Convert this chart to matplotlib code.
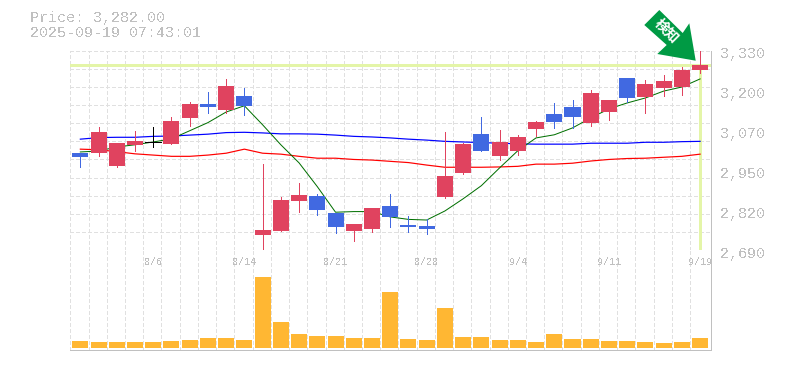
import numpy as np
import matplotlib
matplotlib.use("Agg")
import matplotlib.pyplot as plt
from matplotlib.patches import Polygon
from matplotlib.transforms import IdentityTransform

plt.rcParams["lines.antialiased"] = False
plt.rcParams["text.antialiased"] = False

opens = [3002, 3002, 2960, 3028, 3036, 3031, 3114, 3159, 3140, 3184, 2740, 2752, 2848, 2864, 2810, 2752, 2759, 2832,
         2772, 2768, 2861, 2938, 3063, 2992, 3008, 3079, 3127, 3149, 3098, 3133, 3242, 3181, 3210, 3213, 3268]
closes = [2989, 3069, 3034, 3040, 3036, 3104, 3159, 3149, 3216, 3152, 2756, 2852, 2868, 2820, 2765, 2775, 2826, 2797,
          2765, 2759, 2928, 3031, 3008, 3037, 3053, 3101, 3101, 3117, 3194, 3172, 3178, 3223, 3232, 3268, 3282]
highs = [3002, 3085, 3034, 3072, 3085, 3117, 3165, 3197, 3239, 3210, 2967, 2861, 2906, 2871, 2810, 2775, 2826, 2871,
         2800, 2791, 3069, 3035, 3117, 3076, 3060, 3104, 3162, 3172, 3204, 3172, 3242, 3236, 3252, 3277, 3330]
lows = [2957, 2993, 2958, 3008, 3021, 3031, 3088, 3130, 3131, 3124, 2692, 2752, 2813, 2804, 2746, 2720, 2749, 2765,
        2749, 2743, 2858, 2935, 3008, 2980, 2996, 3056, 3082, 3082, 3088, 3108, 3165, 3130, 3184, 3188, 3258]
ma_short = [3005, 3008, 3021, 3028, 3037, 3047, 3073, 3099, 3133, 3153, 3092, 3028, 2970, 2894, 2812, 2814, 2814, 2797,
            2789, 2787, 2816, 2855, 2897, 2954, 3009, 3050, 3060, 3082, 3114, 3143, 3162, 3178, 3200, 3213, 3239]
ma_mid = [3046, 3051, 3052, 3052, 3055, 3056, 3059, 3062, 3067, 3068, 3066, 3063, 3063, 3062, 3059, 3055, 3053, 3050,
          3046, 3043, 3039, 3037, 3035, 3033, 3031, 3030, 3030, 3030, 3033, 3033, 3033, 3036, 3036, 3038, 3039]
ma_long = [3014, 3012, 3006, 2999, 2995, 2991, 2991, 2995, 3001, 3014, 3001, 2998, 2991, 2985, 2985, 2981, 2979, 2975,
           2971, 2963, 2956, 2956, 2956, 2957, 2959, 2966, 2966, 2969, 2976, 2981, 2984, 2985, 2988, 2991, 2998]
volumes = [7, 6, 6, 6, 6, 7, 8, 10, 10, 8, 71, 26, 14, 12, 12, 10, 10, 56,
           9, 8, 40, 11, 11, 8, 8, 6, 14, 9, 9, 7, 7, 6, 5, 6, 10]
date_pos = [4, 9, 14, 19, 24, 29, 34]
date_labels = ["8/6", "8/14", "8/21", "8/28", "9/4", "9/11", "9/19"]
price_labels = ["2,690", "2,820", "2,950", "3,070", "3,200", "3,330"]
last_price = 3282

W, H = 785, 370
GREY = "#c0c0c0"
GRID = "#e0e0e0"
RED = "#e0435f"
BLUE = "#4169e1"
MARK = "#e4f5a8"
FONT = "Liberation Mono"
px = 72 / 100
thin = 0.6 * px
dash = (0, (5, 3.5))

fig = plt.figure(figsize=(W / 100, H / 100), dpi=100)
ax = fig.add_axes([70.3 / W, 1 - 250.3 / H, 640.2 / W, 199.8 / H])
vol = fig.add_axes([70.3 / W, 1 - 350.3 / H, 640.2 / W, 100 / H])

n = len(closes)
x = np.arange(n)
grid_x = np.arange(n) - 0.55
grid_y = np.linspace(2690, 3330, 12)

for a in (ax, vol):
    a.set_xlim(-0.549, 34.57)
    a.set_xticks(grid_x)
    a.tick_params(length=0, labelbottom=False, labelleft=False)
    a.grid(axis="x", color=GRID, lw=thin, ls=dash)
    a.set_axisbelow(True)
    for s in ("top", "left"):
        a.spines[s].set_visible(False)
    for s in ("bottom", "right"):
        a.spines[s].set_color(GREY)
        a.spines[s].set_linewidth(1 * px)

ax.set_ylim(2690, 3330)
ax.set_yticks(grid_y[:-1])
ax.grid(axis="y", color=GRID, lw=thin, ls=dash)
ax.hlines(3330, -0.549, 34.57, color=GRID, lw=thin, ls=dash, zorder=1)

# last price marker
ax.axhline(last_price, color=MARK, lw=3 * px, zorder=1.5)
ax.plot([n - 1, n - 1], [2695, last_price], color=MARK, lw=3 * px, zorder=1.5, solid_capstyle="butt")

ax.plot(x, ma_long, color="#ff0000", lw=1.2 * px, zorder=2, antialiased=True)
ax.plot(x, ma_mid, color="#0000ff", lw=1.2 * px, zorder=2, antialiased=True)
ax.plot(x, ma_short, color="#006f00", lw=1 * px, zorder=2, antialiased=True)

for i in range(n):
    if closes[i] > opens[i]:
        c = RED
    elif closes[i] < opens[i]:
        c = BLUE
    else:
        c = "black"
    ax.plot([i, i], [lows[i], highs[i]], color=c, lw=thin, zorder=3, solid_capstyle="butt", clip_on=False)
    if closes[i] == opens[i]:
        ax.plot([i - 0.44, i + 0.44], [closes[i], closes[i]], color=c, lw=thin, zorder=3)
    else:
        ax.bar(i, abs(closes[i] - opens[i]), bottom=min(opens[i], closes[i]), width=0.88, color=c, zorder=3)

vol.set_ylim(-2.3, 97.7)
vol.set_yticks([])
vol.bar(x, volumes, width=0.88, color="#ffb733", zorder=3)

for p, lab in zip(date_pos, date_labels):
    vol.annotate(lab, (p, 1), xycoords=("data", "axes fraction"), xytext=(0, -6.5 * px), textcoords="offset points",
                 ha="center", va="top", color=GREY, fontsize=10 * px, family=FONT)

for p, lab in zip(np.linspace(2690, 3330, 6), price_labels):
    ax.annotate(lab, (1, p), xycoords=("axes fraction", "data"), xytext=(9.5 * px, -3.5 * px), textcoords="offset points",
                ha="left", va="center", color=GREY, fontsize=15 * px, family=FONT)

fig.text(30 / W, 1 - 18 / H, "Price: 3,282.00", color=GREY, fontsize=15 * px, family=FONT, va="center")
fig.text(30 / W, 1 - 33 / H, "2025-09-19 07:43:01", color=GREY, fontsize=15 * px, family=FONT, va="center")

# arrow badge, in pixels from the top left corner
arrow_px = [(644.3, 25), (659.3, 10), (682.7, 33), (689.3, 23.3), (695.7, 60.7), (657.3, 54), (666.7, 45)]
fig.add_artist(Polygon([(a, H - b) for a, b in arrow_px], closed=True, color="#009a44", lw=0,
                       transform=IdentityTransform(), zorder=5))
fig.text(666 / W, 1 - 31 / H, "検知", color="white", fontsize=14 * px, rotation=-45, rotation_mode="anchor", ha="center", va="center",
         family=["Noto Sans CJK JP", "DejaVu Sans"], fontweight="bold", zorder=6, antialiased=True)

fig.savefig("out.png", dpi=100)
